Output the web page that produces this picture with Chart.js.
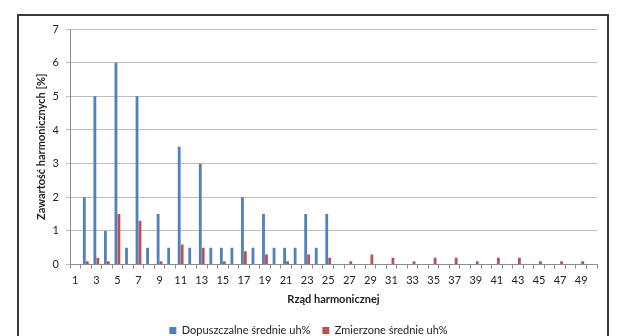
<!DOCTYPE html>
<html>
<head>
<meta charset="utf-8">
<script src="https://cdn.jsdelivr.net/npm/chart.js@4/dist/chart.umd.min.js"></script>
<style>
  html, body { margin: 0; padding: 0; background: #fff; overflow: hidden; }
  #wrap { position: relative; width: 624px; height: 336px; overflow: hidden; }
  #ramka { position: absolute; left: 17px; top: 14px; width: 592px; height: 340px; border: 2px solid #3a3a3a; box-sizing: border-box; }
  #harmChart { position: absolute; left: 0; top: 0; }
</style>
</head>
<body>
<div id="wrap">
  <div id="ramka"></div>
  <canvas id="harmChart" width="624" height="346"></canvas>
</div>
<script>
// rzad harmonicznej 1..50
const rzad = ['1','2','3','4','5','6','7','8','9','10','11','12','13','14','15','16','17','18','19','20',
  '21','22','23','24','25','26','27','28','29','30','31','32','33','34','35','36','37','38','39','40',
  '41','42','43','44','45','46','47','48','49','50'];

// Dopuszczalne srednie uh%
const dopuszczalne = [null, 2, 5, 1, 6, 0.5, 5, 0.5, 1.5, 0.5, 3.5, 0.5, 3, 0.5, 0.5, 0.5, 2, 0.5, 1.5, 0.5,
  0.5, 0.5, 1.5, 0.5, 1.5, null, null, null, null, null, null, null, null, null, null, null, null, null, null, null,
  null, null, null, null, null, null, null, null, null, null];

// Zmierzone srednie uh%
const zmierzone = [null, 0.1, 0.2, 0.1, 1.5, null, 1.3, null, 0.1, null, 0.6, null, 0.5, null, 0.1, null, 0.4, null, 0.3, null,
  0.1, null, 0.3, null, 0.2, null, 0.1, null, 0.3, null, 0.2, null, 0.1, null, 0.2, null, 0.2, null, 0.1, null,
  0.2, null, 0.2, null, 0.1, null, 0.1, null, 0.1, null];

const yTicks = [0, 1, 2, 3, 4, 5, 6, 7];

Chart.defaults.font.family = 'Lato, "Open Sans", sans-serif';
Chart.defaults.color = '#222';

const ctx = document.getElementById('harmChart').getContext('2d');
const chart = new Chart(ctx, {
  type: 'bar',
  data: {
    labels: rzad,
    datasets: [{
      label: 'Dopuszczalne średnie uh%',
      data: dopuszczalne,
      backgroundColor: '#4F81BD',
      borderWidth: 0,
      categoryPercentage: 0.56,
      barPercentage: 0.95
    }, {
      label: 'Zmierzone średnie uh%',
      data: zmierzone,
      backgroundColor: '#C0504D',
      borderWidth: 0,
      categoryPercentage: 0.56,
      barPercentage: 0.95
    }]
  },
  options: {
    responsive: false,
    animation: false,
    layout: {
      padding: { left: 20, right: 27, top: 29, bottom: 0 }
    },
    plugins: {
      tooltip: { enabled: false },
      legend: {
        position: 'bottom',
        labels: {
          boxWidth: 7,
          boxHeight: 7,
          padding: 12,
          font: { size: 11 },
          color: '#222'
        }
      }
    },
    scales: {
      x: {
        grid: {
          display: true,
          drawOnChartArea: false,
          drawTicks: true,
          tickLength: 4,
          color: '#8c8c8c'
        },
        border: { display: true, color: '#8c8c8c' },
        ticks: {
          autoSkip: false,
          maxRotation: 0,
          padding: 5,
          font: { size: 11 },
          callback: function (val, i) {
            return i % 2 === 0 ? rzad[i] : '';
          }
        },
        title: {
          display: true,
          text: 'Rząd harmonicznej',
          font: { size: 11, weight: 'bold' },
          padding: { top: 1, bottom: 7 }
        }
      },
      y: {
        min: 0,
        max: 7,
        afterBuildTicks: function (scale) {
          scale.ticks = yTicks.map(v => ({ value: v }));
        },
        afterFit: function (scale) {
          scale.width = 50;
        },
        grid: {
          color: '#bdbdbd',
          tickLength: 4,
          lineWidth: 1
        },
        border: { display: true, color: '#8c8c8c' },
        ticks: {
          padding: 7,
          font: { size: 11 }
        },
        title: {
          display: true,
          text: 'Zawartość harmonicznych [%]',
          font: { size: 11, weight: 'bold' },
          padding: { top: 15, bottom: 4 }
        }
      }
    }
  }
});
</script>
</body>
</html>
